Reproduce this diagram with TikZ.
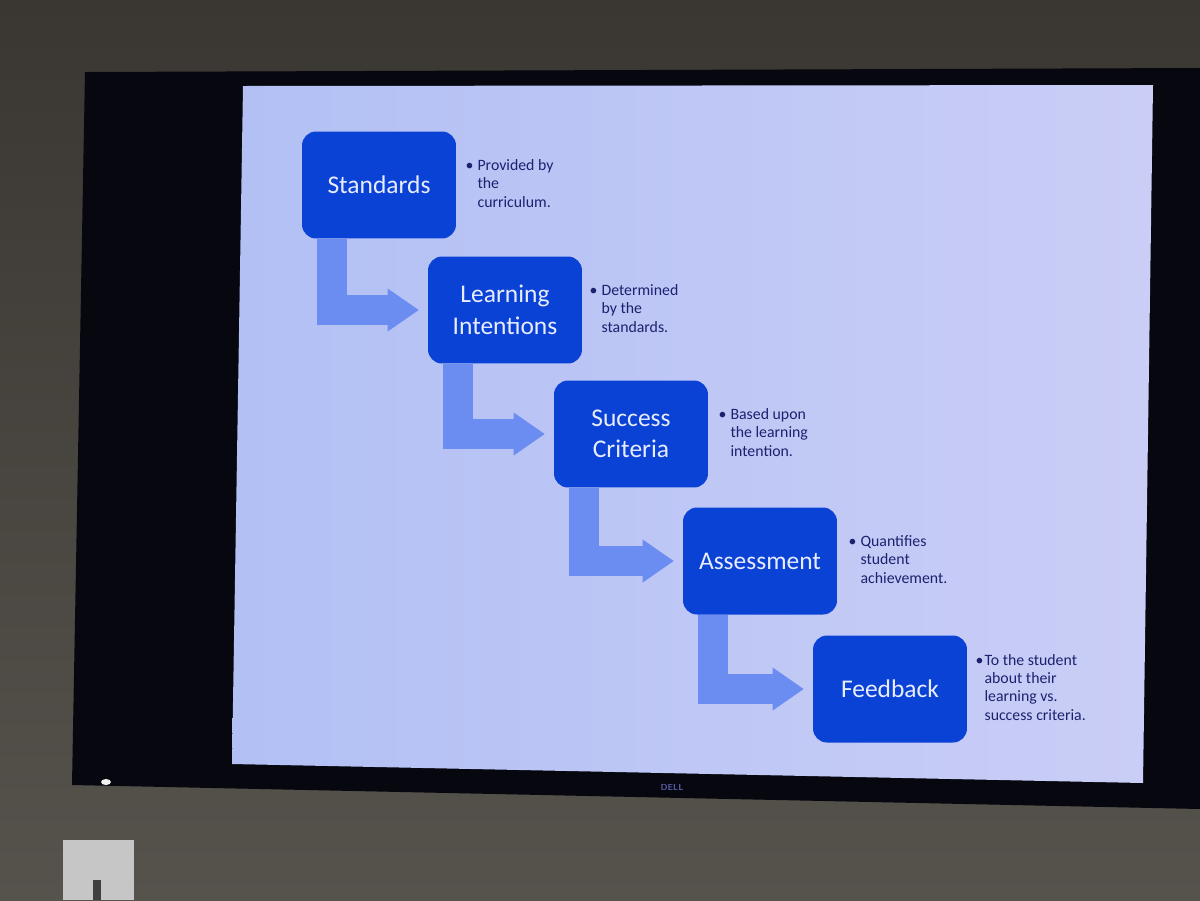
\documentclass[tikz,border=0pt]{standalone}
\usepackage{fontspec}
\setmainfont{Carlito}
\usetikzlibrary{shapes,arrows,arrows.meta,positioning}

\definecolor{walltop}{HTML}{3A3732}
\definecolor{wallbottom}{HTML}{56524C}
\definecolor{tvblack}{HTML}{06070F}
\definecolor{slideleft}{HTML}{B2C0F4}
\definecolor{slideright}{HTML}{CACEF6}
\definecolor{stageblue}{HTML}{0B42D6}
\definecolor{stagetext}{HTML}{E8ECFF}
\definecolor{flowblue}{HTML}{6B8DF2}
\definecolor{notetext}{HTML}{1C2170}

\begin{document}
\begin{tikzpicture}[x=0.02cm, y=-0.02cm]
		\tikzstyle {stage} = [fill=stageblue, rounded corners=0.28cm, minimum width=3.08cm, minimum height=2.14cm, align=center, text=stagetext, font=\fontsize{14.5}{18}\selectfont]
		\tikzstyle {note} = [inner sep=0pt, text=notetext, font=\fontsize{9}{10.5}\selectfont]
		\tikzstyle {flow} = [draw=flowblue, line width=0.6cm, line join=miter, -{Triangle[length=0.62cm 0 0, width=0.86cm 0 0, line width=0pt]}, shorten >=0.18cm]

		\useasboundingbox (0,0) rectangle (1200,900);

		% room and screen
		\shade[top color=walltop, bottom color=wallbottom] (0,0) rectangle (1200,900);
		\fill[tvblack] (85,72) -- (1200,68) -- (1200,809) -- (72,785) -- cycle;
		\shade[left color=slideleft, right color=slideright] (243,86) -- (1153,85) -- (1143,783) -- (232,764) -- cycle;
		\fill[white!90!gray] (106,782) ellipse (5 and 3);
		\node[text=gray!70!blue, font=\sffamily\bfseries\fontsize{5}{5}\selectfont] (logo) at (672,787) {DELL};
		\fill[gray!45!white] (63,840) rectangle (134,900);
		\fill[black!75] (93,880) rectangle (101,900);

		% stages
		\node[stage] (std) at (379,185) {Standards};
		\node[stage] (li) at (505,310) {Learning\\Intentions};
		\node[stage] (sc) at (631,434) {Success\\Criteria};
		\node[stage] (as) at (760,561) {Assessment};
		\node[stage] (fb) at (890,689) {Feedback};

		\draw[flow] ([xshift=0.6cm]std.south west) |- (li);
		\draw[flow] ([xshift=0.6cm]li.south west) |- (sc);
		\draw[flow] ([xshift=0.6cm]sc.south west) |- (as);
		\draw[flow] ([xshift=0.6cm]as.south west) |- (fb);

		% notes
		\node[note, right=0.18cm of std] (stdnote) {\begin{tabular}{@{}l@{\hspace{0.08cm}}l@{}}•&Provided by\\&the\\&curriculum.\end{tabular}};
		\node[note, right=0.14cm of li] (linote) {\begin{tabular}{@{}l@{\hspace{0.08cm}}l@{}}•&Determined\\&by the\\&standards.\end{tabular}};
		\node[note, right=0.2cm of sc] (scnote) {\begin{tabular}{@{}l@{\hspace{0.08cm}}l@{}}•&Based upon\\&the learning\\&intention.\end{tabular}};
		\node[note, right=0.22cm of as] (asnote) {\begin{tabular}{@{}l@{\hspace{0.08cm}}l@{}}•&Quantifies\\&student\\&achievement.\end{tabular}};
		\node[note, right=0.16cm of fb] (fbnote) {\begin{tabular}{@{}l@{\hspace{0.02cm}}l@{}}•&To the student\\&about their\\&learning vs.\\&success criteria.\end{tabular}};
\end{tikzpicture}
\end{document}
